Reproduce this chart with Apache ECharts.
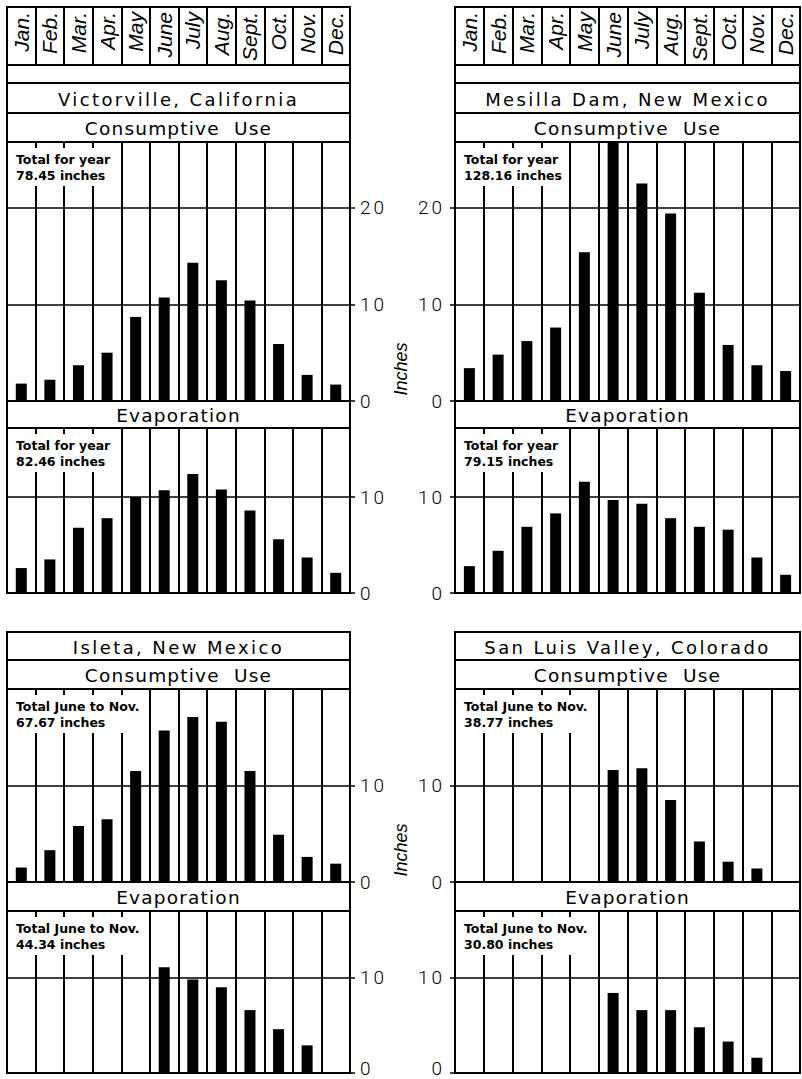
<!DOCTYPE html>
<html><head><meta charset="utf-8">
<script src="https://cdn.jsdelivr.net/npm/echarts@6/dist/echarts.min.js"></script>
<style>
html,body{margin:0;padding:0;background:#fff}
#c{width:802px;height:1079px}
#c text[style*='18px "DejaVu Sans"']{letter-spacing:2.4px}
#c text[style*='18.5px "DejaVu Sans"']{letter-spacing:1.2px}
#c text[style*='Roboto']{letter-spacing:3px}
</style>
</head><body><div id="c"></div>
<script>
// ---------- data ----------
const months = ['Jan.','Feb.','Mar.','Apr.','May','June','July','Aug.','Sept.','Oct.','Nov.','Dec.'];
const stations = ['Victorville, California','Mesilla Dam, New Mexico','Isleta, New Mexico','San Luis Valley, Colorado'];
const sectionTitles = ['Consumptive  Use','Evaporation'];
const axisName = 'Inches';
const victorvilleCU   = [1.8,2.2,3.7,5.0,8.7,10.7,14.3,12.5,10.4,5.9,2.7,1.7];
const victorvilleEvap = [2.6,3.5,6.8,7.8,10.0,10.7,12.4,10.8,8.6,5.6,3.7,2.1];
const mesillaCU       = [3.4,4.8,6.2,7.6,15.4,27.0,22.5,19.4,11.2,5.8,3.7,3.1];
const mesillaEvap     = [2.8,4.4,6.9,8.3,11.6,9.7,9.3,7.8,6.9,6.6,3.7,1.9];
const isletaCU        = [1.5,3.3,5.8,6.5,11.5,15.7,17.1,16.6,11.5,4.9,2.6,1.9];
const isletaEvap      = [null,null,null,null,null,11.1,9.8,9.0,6.6,4.6,2.9,null];
const sanLuisCU       = [null,null,null,null,null,11.6,11.8,8.5,4.2,2.1,1.4,null];
const sanLuisEvap     = [null,null,null,null,null,8.4,6.6,6.6,4.8,3.3,1.6,null];
const totalsCU   = ['Total for year\n78.45 inches','Total for year\n128.16 inches','Total June to Nov.\n67.67 inches','Total June to Nov.\n38.77 inches'];
const totalsEvap = ['Total for year\n82.46 inches','Total for year\n79.15 inches','Total June to Nov.\n44.34 inches','Total June to Nov.\n30.80 inches'];
const axisMaxCU   = [26.8, 26.8, 20, 20];
const axisMaxEvap = [17.2, 17.2, 17, 17];
const tickInterval = 10;

// ---------- layout ----------
const LX = 7, LW = 343, RX = 455, RW = 345;
const topRows = {month:[7,65], empty:[65,83], title:[83,113], cuHead:[113,142], cu:[142,401], evHead:[401,428], ev:[428,593]};
const botRows = {title:[632,660], cuHead:[660,689], cu:[689,882], evHead:[882,911], ev:[911,1073]};
const panels = [
  {x:LX, w:LW, side:'right', rows:topRows, cu:victorvilleCU, ev:victorvilleEvap},
  {x:RX, w:RW, side:'left',  rows:topRows, cu:mesillaCU, ev:mesillaEvap},
  {x:LX, w:LW, side:'right', rows:botRows, cu:isletaCU, ev:isletaEvap, lift:true},
  {x:RX, w:RW, side:'left',  rows:botRows, cu:sanLuisCU, ev:sanLuisEvap, lift:true}
];

const FONT = 'DejaVu Sans';
const grid = [], xAxis = [], yAxis = [], series = [], graphic = [];

function addRow(x, w, r, text, size) {
  graphic.push({type:'rect', z:10, shape:{x:x, y:r[0], width:w, height:r[1]-r[0]},
    style:{fill:'#fff', stroke:'#000', lineWidth:2}});
  if (text) graphic.push({type:'text', z:11, x:x + w/2, y:(r[0]+r[1])/2 + 1,
    style:{text:text, fill:'#000', font:'normal ' + size + 'px "' + FONT + '"', align:'center', verticalAlign:'middle'}});
}

const tickFont = {fontSize:19, fontFamily:'Roboto', fontWeight:300, color:'#000'};

panels.forEach((p, i) => {
  const R = p.rows;
  if (R.month) {
    const gi = grid.length;
    grid.push({left:p.x, top:R.month[0], width:p.w, height:R.month[1]-R.month[0], show:true, borderColor:'#000', borderWidth:2, backgroundColor:'#fff'});
    xAxis.push({gridIndex:gi, type:'category', data:months, position:'top', boundaryGap:true,
      axisLine:{show:false}, axisTick:{show:false},
      axisLabel:{inside:true, rotate:90, margin:5, interval:0, fontSize:21, fontStyle:'italic', fontFamily:'Liberation Sans', color:'#000'},
      splitLine:{show:true, interval:0, lineStyle:{color:'#000', width:2}}});
    yAxis.push({gridIndex:gi, type:'value', min:0, max:1, show:false});
    addRow(p.x, p.w, R.empty, '', 0);
  }
  addRow(p.x, p.w, R.title, stations[i], 18);
  addRow(p.x, p.w, R.cuHead, sectionTitles[0], 18.5);
  addRow(p.x, p.w, R.evHead, sectionTitles[1], 18.5);
  [['cu', axisMaxCU[i], p.cu, totalsCU[i], false], ['ev', axisMaxEvap[i], p.ev, totalsEvap[i], !!p.lift]].forEach(([k, mx, data, tot, lift]) => {
    const gi = grid.length;
    grid.push({left:p.x, top:R[k][0], width:p.w, height:R[k][1]-R[k][0], show:true, borderColor:'#000', borderWidth:2, backgroundColor:'#fff'});
    xAxis.push({gridIndex:gi, type:'category', data:months, boundaryGap:true,
      axisLine:{show:false}, axisTick:{show:false}, axisLabel:{show:false},
      splitLine:{show:true, interval:0, lineStyle:{color:'#000', width:2}}});
    const label = Object.assign({show:true, margin:10, showMaxLabel:false, showMinLabel:true}, tickFont);
    if (lift) {
      label.formatter = v => v === 0 ? '{z|0}' : String(v);
      label.rich = {z: Object.assign({padding:[0,0,10,0]}, tickFont)};
    }
    yAxis.push({gridIndex:gi, type:'value', min:0, max:mx, interval:tickInterval, position:p.side,
      axisLine:{show:false},
      axisTick:{show:true, length:5, lineStyle:{color:'#000', width:1.5}},
      axisLabel:label,
      splitLine:{show:true, lineStyle:{color:'#000', width:1.5}}});
    series.push({type:'bar', xAxisIndex:gi, yAxisIndex:gi, data:data, barWidth:11, clip:true,
      itemStyle:{color:'#000'}, silent:true});
    graphic.push({type:'text', z:20, x:p.x + 6, y:R[k][0] + 6,
      style:{text:tot, fill:'#000', font:'bold 12.5px "' + FONT + '"', lineHeight:16, backgroundColor:'#fff', padding:[3,4,3,3]}});
  });
});

// "Inches" axis names
graphic.push({type:'text', z:20, x:401, y:369, rotation:Math.PI/2,
  style:{text:axisName, fill:'#000', font:'italic 18px "Liberation Sans"', align:'center', verticalAlign:'middle'}});
graphic.push({type:'text', z:20, x:401, y:850, rotation:Math.PI/2,
  style:{text:axisName, fill:'#000', font:'italic 18px "Liberation Sans"', align:'center', verticalAlign:'middle'}});

const chart = echarts.init(document.getElementById('c'), null, {renderer:'svg'});
chart.setOption({animation:false, backgroundColor:'#fff', grid, xAxis, yAxis, series, graphic});
</script></body></html>
